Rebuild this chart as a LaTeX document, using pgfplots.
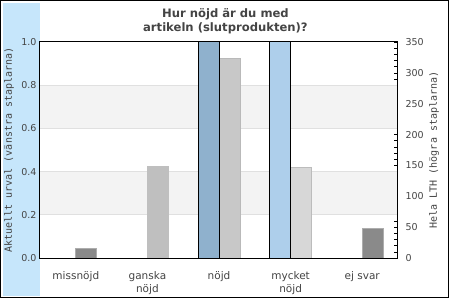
\documentclass[border=0pt]{standalone}
\usepackage{pgfplots}
\pgfplotsset{compat=1.18}
\usepackage{fontspec}
\setmainfont{DejaVu Sans}
\newfontfamily\monofont{DejaVu Sans Mono}
\definecolor{txt}{HTML}{444444}
\definecolor{strip}{HTML}{C6E6FB}
\definecolor{band}{HTML}{F3F3F3}
\definecolor{gridc}{HTML}{E0E0E0}
\definecolor{bluedark}{HTML}{8FB1CD}
\definecolor{bluelight}{HTML}{AECFEB}
\definecolor{gA}{HTML}{8A8A8A}
\definecolor{gAb}{HTML}{ADADAD}
\definecolor{gB}{HTML}{BFBFBF}
\definecolor{gC}{HTML}{C8C8C8}
\definecolor{gCb}{HTML}{B9B9B9}
\definecolor{gD}{HTML}{D7D7D7}
\definecolor{gDb}{HTML}{BCBCBC}
\begin{document}
\begin{tikzpicture}[x=1pt,y=1pt]
\useasboundingbox (0,0) rectangle (450,300);
\fill[white] (0,0) rectangle (450,300);
\fill[strip] (3,4) rectangle (40,297);
\draw[black, line width=1pt] (0.5,2) rectangle (448.5,299.5);
% right axis (Hela LTH) with bands, grid and grey bars
\begin{axis}[
  at={(40pt,42pt)}, anchor=south west,
  scale only axis, width=358pt, height=216pt,
  xmin=-0.5, xmax=4.5, ymin=0, ymax=350,
  axis y line*=right, axis x line=none,
  ytick={0,50,100,150,200,250,300,350},
  minor y tick num=4,
  tick align=inside,
  major tick length=3.5pt, minor tick length=3.5pt,
  tick style={black, line width=0.6pt},
  axis line style={black, line width=1pt},
  /pgf/number format/assume math mode=true,
  yticklabel style={font=\fontsize{9.5}{11}\selectfont, text=txt, anchor=west, xshift=4pt},
  ylabel={Hela LTH (högra staplarna)},
  ylabel style={font=\monofont\fontsize{10}{12}\selectfont, text=txt, at={(axis description cs:1.1006,0.5)}, anchor=center},
  clip=false,
]
\fill[band] (axis cs:-0.5,70) rectangle (axis cs:4.5,140);
\fill[band] (axis cs:-0.5,210) rectangle (axis cs:4.5,280);
\draw[gridc, line width=0.8pt] (axis cs:-0.5,70) -- (axis cs:4.5,70);
\draw[gridc, line width=0.8pt] (axis cs:-0.5,140) -- (axis cs:4.5,140);
\draw[gridc, line width=0.8pt] (axis cs:-0.5,210) -- (axis cs:4.5,210);
\draw[gridc, line width=0.8pt] (axis cs:-0.5,280) -- (axis cs:4.5,280);
\addplot[ybar, bar width=0.2933, bar shift=0.1466, fill=gA, draw=gAb, line width=0.8pt] coordinates {(0,15)};
\addplot[ybar, bar width=0.2933, bar shift=0.1466, fill=gB, draw=gB, line width=0.8pt] coordinates {(1,148)};
\addplot[ybar, bar width=0.2933, bar shift=0.1466, fill=gC, draw=gCb, line width=0.8pt] coordinates {(2,324)};
\addplot[ybar, bar width=0.2933, bar shift=0.1466, fill=gD, draw=gDb, line width=0.8pt] coordinates {(3,147)};
\addplot[ybar, bar width=0.2933, bar shift=0.1466, fill=gA, draw=gAb, line width=0.8pt] coordinates {(4,48)};
\end{axis}
% left axis (Aktuellt urval)
\begin{axis}[
  at={(40pt,42pt)}, anchor=south west,
  scale only axis, width=358pt, height=216pt,
  xmin=-0.5, xmax=4.5, ymin=0, ymax=1,
  axis line style={black, line width=1pt},
  ytick={0,0.2,0.4,0.6,0.8,1.0},
  yticklabel style={font=\fontsize{9.5}{11}\selectfont, text=txt, /pgf/number format/.cd, fixed, fixed zerofill, precision=1},
  /pgf/number format/assume math mode=true,
  xtick={0,1,2,3,4},
  xticklabels={missnöjd, {ganska\\nöjd}, nöjd, {mycket\\nöjd}, ej svar},
  xticklabel style={font=\fontsize{10.5}{12.5}\selectfont, text=txt, align=center, anchor=north, inner sep=0pt, yshift=-13.5pt},
  major tick length=0pt,
  tick style={draw=none},
  ylabel={Aktuellt urval (vänstra staplarna)},
  ylabel style={font=\monofont\fontsize{10}{12}\selectfont, text=txt, at={(axis description cs:-0.0866,0.5)}, anchor=center},
  title={Hur nöjd är du med\\artikeln (slutprodukten)?},
  title style={font=\bfseries\fontsize{11.6}{14}\selectfont, text=txt, align=center, at={(axis description cs:0.518,1)}, anchor=north, inner sep=0pt, yshift=28pt},
  clip=false,
]
\addplot[ybar, bar width=0.2933, bar shift=-0.1466, fill=bluedark, draw=black, line width=1pt] coordinates {(2,1)};
\addplot[ybar, bar width=0.2933, bar shift=-0.1466, fill=bluelight, draw=black, line width=1pt] coordinates {(3,1)};
\end{axis}
\end{tikzpicture}
\end{document}
